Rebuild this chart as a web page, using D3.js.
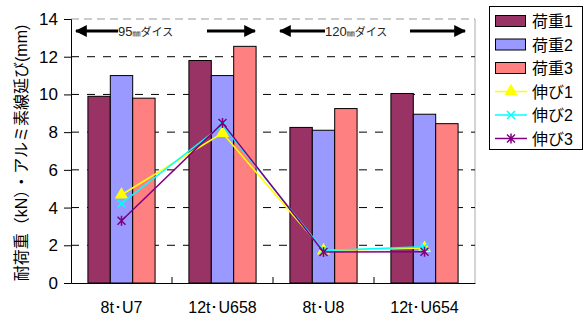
<!DOCTYPE html>
<html><head><meta charset="utf-8">
<script src="https://cdn.jsdelivr.net/npm/d3@7"></script>
<style>
body{margin:0;background:#fff;}
svg{display:block;font-family:"Liberation Sans","Noto Sans CJK JP",sans-serif;}
</style></head><body>
<svg id="chart" width="584" height="321"></svg>
<script>
// Categories and measured values
const categories = ["8t･U7", "12t･U658", "8t･U8", "12t･U654"];
const load1 = [9.9, 11.8, 8.25, 10.05];
const load2 = [11.0, 11.0, 8.1, 8.95];
const load3 = [9.8, 12.55, 9.25, 8.45];
const elong1 = [4.68, 7.95, 1.72, 1.85];
const elong2 = [4.22, 8.38, 1.72, 1.92];
const elong3 = [3.3, 8.48, 1.64, 1.66];
const yTicks = [0, 2, 4, 6, 8, 10, 12, 14];
const barNames = ["荷重1", "荷重2", "荷重3"];
const lineNames = ["伸び1", "伸び2", "伸び3"];
const dieLabels = ["95㎜ダイス", "120㎜ダイス"];

const barSeries = [
  {name: barNames[0], values: load1, color: "#993366"},
  {name: barNames[1], values: load2, color: "#9999FF"},
  {name: barNames[2], values: load3, color: "#FF8080"}
];
const lineSeries = [
  {name: lineNames[0], values: elong1, color: "#FFFF00", marker: "triangle"},
  {name: lineNames[1], values: elong2, color: "#00FFFF", marker: "x"},
  {name: lineNames[2], values: elong3, color: "#800080", marker: "star"}
];

const svg = d3.select("#chart");
const m = {left: 71, right: 475, top: 19, bottom: 283};

const x = d3.scaleBand().domain(categories).range([m.left, m.right])
  .paddingInner(0.335).paddingOuter(0.1675);
const xs = d3.scaleBand().domain(barSeries.map(d => d.name)).range([0, x.bandwidth()]);
const y = d3.scaleLinear().domain([0, 14]).range([m.bottom, m.top]);

// plot frame (top and right)
svg.append("line").attr("x1", m.left).attr("x2", m.right).attr("y1", m.top).attr("y2", m.top)
  .attr("stroke", "#999").attr("stroke-dasharray", "8,5");
svg.append("line").attr("x1", m.right).attr("x2", m.right).attr("y1", m.top).attr("y2", m.bottom)
  .attr("stroke", "#aaa");

// dashed gridlines
svg.append("g").selectAll("line").data(yTicks.filter(t => t > 0 && t < 14)).join("line")
  .attr("x1", m.left).attr("x2", m.right)
  .attr("y1", d => y(d)).attr("y2", d => y(d))
  .attr("stroke", "#000").attr("stroke-dasharray", "8,8");

// bars
const groups = svg.append("g").selectAll("g").data(categories).join("g")
  .attr("transform", d => `translate(${x(d)},0)`);
groups.selectAll("rect").data((c, i) => barSeries.map(s => ({s, v: s.values[i]}))).join("rect")
  .attr("x", d => xs(d.s.name)).attr("width", xs.bandwidth())
  .attr("y", d => y(d.v)).attr("height", d => y(0) - y(d.v))
  .attr("fill", d => d.s.color).attr("stroke", "#000").attr("stroke-width", 1);

// y axis
const yAxis = svg.append("g").attr("transform", `translate(${m.left},0)`)
  .call(d3.axisLeft(y).tickValues(yTicks).tickSize(7).tickPadding(6));
yAxis.select(".domain").attr("stroke", "#000");
yAxis.selectAll("text").attr("font-size", 17).attr("fill", "#000");

// x axis
const xAxis = svg.append("g").attr("transform", `translate(0,${m.bottom})`)
  .call(d3.axisBottom(x).tickSize(0).tickPadding(19));
xAxis.select(".domain").attr("stroke", "#000");
xAxis.selectAll("text").attr("font-size", 16).attr("fill", "#000");
// category separators
svg.append("g").selectAll("line").data(categories.slice(1)).join("line")
  .attr("x1", d => x(d) - x.step() * x.paddingInner() / 2)
  .attr("x2", d => x(d) - x.step() * x.paddingInner() / 2)
  .attr("y1", m.bottom).attr("y2", m.bottom - 6).attr("stroke", "#000");

// elongation lines
const cx = c => x(c) + x.bandwidth() / 2;
const line = d3.line().x(d => cx(d.c)).y(d => y(d.v));
const markerPath = {
  triangle: d3.symbol(d3.symbolTriangle, 50)(),
  x: "M-4,-4L4,4M-4,4L4,-4",
  star: "M-4,-4L4,4M-4,4L4,-4M0,-5L0,5"
};
lineSeries.forEach(s => {
  const pts = categories.map((c, i) => ({c, v: s.values[i]}));
  svg.append("path").datum(pts).attr("d", line)
    .attr("fill", "none").attr("stroke", s.color).attr("stroke-width", 1.5);
  svg.append("g").selectAll("path").data(pts).join("path")
    .attr("transform", d => `translate(${cx(d.c)},${y(d.v)})`)
    .attr("d", markerPath[s.marker])
    .attr("fill", s.color).attr("stroke", s.color).attr("stroke-width", 1.5);
});

// die-size range arrows
svg.append("defs").append("marker").attr("id", "ah").attr("viewBox", "0 0 10 10")
  .attr("refX", 9).attr("refY", 5).attr("markerWidth", 4).attr("markerHeight", 4)
  .attr("orient", "auto-start-reverse").attr("markerUnits", "strokeWidth")
  .append("path").attr("d", "M0,0L10,5L0,10Z").attr("fill", "#000");
const arrowY = 31;
const ranges = [
  {label: dieLabels[0], a: [73, 118], t: 118, b: [207, 258]},
  {label: dieLabels[1], a: [277, 325], t: 325, b: [410, 468]}
];
ranges.forEach(r => {
  svg.append("line").attr("x1", r.a[1]).attr("x2", r.a[0] + 3).attr("y1", arrowY).attr("y2", arrowY)
    .attr("stroke", "#000").attr("stroke-width", 3).attr("marker-end", "url(#ah)");
  svg.append("line").attr("x1", r.b[0]).attr("x2", r.b[1] - 3).attr("y1", arrowY).attr("y2", arrowY)
    .attr("stroke", "#000").attr("stroke-width", 3).attr("marker-end", "url(#ah)");
  const num = r.label.replace(/㎜.*/, "");
  const rest = r.label.slice(num.length + 1);
  const t = svg.append("text").attr("x", r.t).attr("y", arrowY + 5).attr("font-size", 13).attr("fill", "#222");
  t.append("tspan").text(num);
  t.append("tspan").attr("font-size", 8).text("㎜");
  t.append("tspan").attr("font-size", 11).text(rest);
});

// y axis title
svg.append("text").attr("transform", "translate(27,153) rotate(-90)")
  .attr("text-anchor", "middle").attr("font-size", 16).attr("fill", "#000")
  .text("耐荷重（kN）・アルミ素線延び(mm)");

// legend
const lg = svg.append("g");
lg.append("rect").attr("x", 489.5).attr("y", 6.5).attr("width", 93).attr("height", 143)
  .attr("fill", "#fff").attr("stroke", "#000");
const rowY = i => 21 + i * 23.5;
barSeries.forEach((s, i) => {
  lg.append("rect").attr("x", 495.5).attr("y", rowY(i) - 5.5).attr("width", 30).attr("height", 11)
    .attr("fill", s.color).attr("stroke", "#000");
  lg.append("text").attr("x", 532).attr("y", rowY(i) + 6).attr("font-size", 16).text(s.name);
});
lineSeries.forEach((s, j) => {
  const i = j + 3;
  lg.append("line").attr("x1", 495).attr("x2", 527).attr("y1", rowY(i)).attr("y2", rowY(i))
    .attr("stroke", s.color).attr("stroke-width", 1.5);
  lg.append("path").attr("transform", `translate(511,${rowY(i)})`).attr("d", markerPath[s.marker])
    .attr("fill", s.color).attr("stroke", s.color).attr("stroke-width", 1.5);
  lg.append("text").attr("x", 532).attr("y", rowY(i) + 6).attr("font-size", 16).text(s.name);
});
</script>
</body></html>
